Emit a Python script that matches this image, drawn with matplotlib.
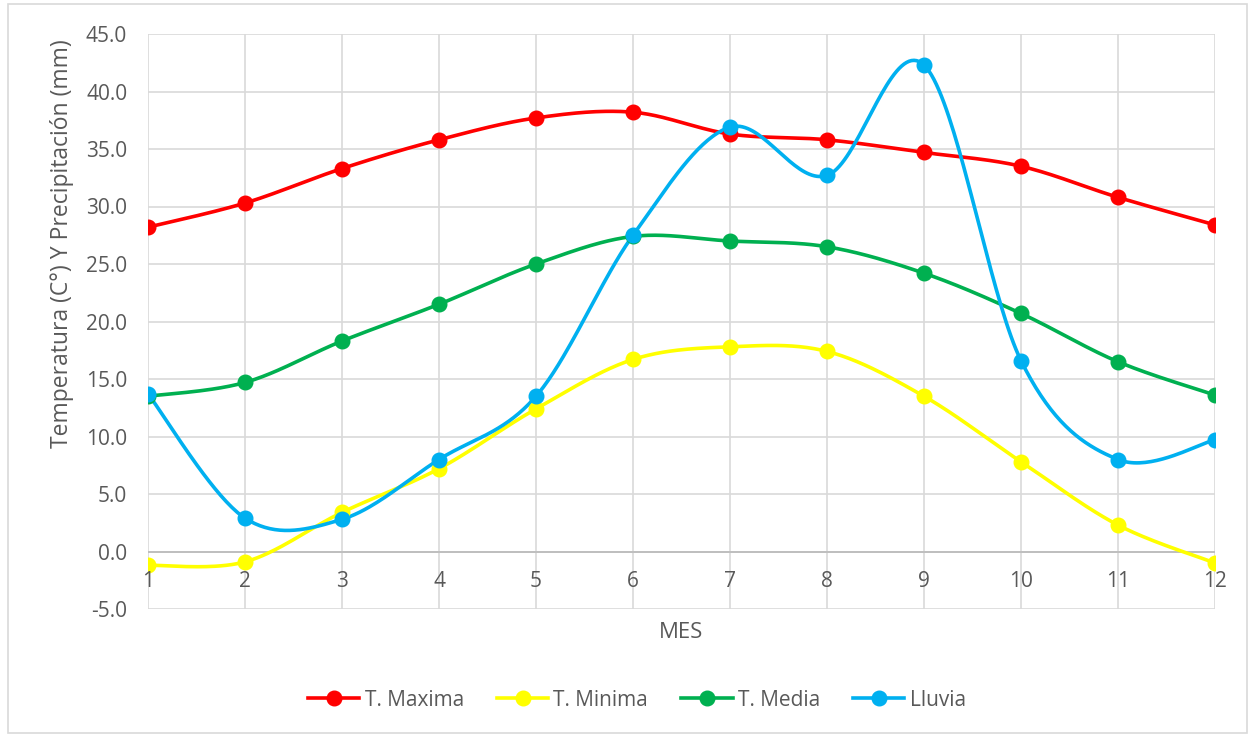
import numpy as np
import matplotlib
matplotlib.use("Agg")
import matplotlib.pyplot as plt
from matplotlib.lines import Line2D
from matplotlib.patches import Rectangle
from matplotlib.transforms import offset_copy

meses = [1, 2, 3, 4, 5, 6, 7, 8, 9, 10, 11, 12]
t_maxima = [28.2, 30.3, 33.3, 35.8, 37.7, 38.2, 36.3, 35.8, 34.7, 33.5, 30.8, 28.4]
t_minima = [-1.2, -0.9, 3.4, 7.2, 12.4, 16.7, 17.8, 17.4, 13.5, 7.8, 2.3, -1.0]
t_media = [13.5, 14.7, 18.3, 21.5, 25.0, 27.4, 27.0, 26.5, 24.2, 20.7, 16.5, 13.6]
lluvia = [13.7, 2.9, 2.8, 8.0, 13.5, 27.5, 36.9, 32.7, 42.3, 16.6, 8.0, 9.7]

series_names = ["T. Maxima", "T. Minima", "T. Media", "Lluvia"]
series_colors = ["#FF0000", "#FFFF00", "#00B050", "#00B0F0"]
y_ticks = [-5, 0, 5, 10, 15, 20, 25, 30, 35, 40, 45]

TXT = "#595959"
FONT = "Open Sans"
plt.rcParams["font.family"] = [FONT, "DejaVu Sans"]


def smooth(xs, ys, n=40):
    """Excel-like smoothed line: cubic Bezier with Catmull-Rom control points."""
    xs = np.asarray(xs, float)
    ys = np.asarray(ys, float)
    P = np.column_stack([xs, ys])
    out = []
    t = np.linspace(0, 1, n)[:, None]
    for i in range(len(P) - 1):
        p0 = P[i - 1] if i > 0 else P[i]
        p1 = P[i]
        p2 = P[i + 1]
        p3 = P[i + 2] if i + 2 < len(P) else P[i + 1]
        c1 = p1 + (p2 - p0) / 6.0
        c2 = p2 - (p3 - p1) / 6.0
        seg = ((1 - t) ** 3) * p1 + 3 * ((1 - t) ** 2) * t * c1 + 3 * (1 - t) * t ** 2 * c2 + t ** 3 * p2
        out.append(seg if i == 0 else seg[1:])
    S = np.vstack(out)
    return S[:, 0], S[:, 1]


fig = plt.figure(figsize=(12.52, 7.35), dpi=100)
fig.patches.append(Rectangle((0.006, 0.003), 0.99, 0.991, transform=fig.transFigure,
                             fill=False, edgecolor="#D9D9D9", linewidth=1.2))
ax = fig.add_axes([148 / 1252, 1 - 609 / 735, (1215 - 148) / 1252, (609 - 34) / 735])

ax.set_xlim(1, 12)
ax.set_ylim(-5, 45)
ax.set_xticks(meses)
ax.set_yticks(y_ticks)
ax.set_yticklabels([f"{v:.1f}" for v in y_ticks])
ax.grid(True, color="#D9D9D9", linewidth=1.2)
ax.set_axisbelow(True)
for s in ax.spines.values():
    s.set_visible(False)
ax.axhline(0, color="#BFBFBF", linewidth=1.4, zorder=1)
ax.tick_params(axis="x", length=0, labelbottom=False)
ax.tick_params(axis="y", length=0, pad=15, labelsize=15, labelcolor=TXT)

trans = offset_copy(ax.transData, fig=fig, x=0, y=-30, units="dots")
for m in meses:
    ax.text(m, 0, str(m), transform=trans, ha="center", va="center",
            fontsize=15, color=TXT, zorder=5)

handles = []
for name, col, vals in zip(series_names, series_colors, [t_maxima, t_minima, t_media, lluvia]):
    sx, sy = smooth(meses, vals)
    ax.plot(sx, sy, color=col, linewidth=2.6, solid_capstyle="round", zorder=3)
    ax.plot(meses, vals, linestyle="none", marker="o", markersize=10.5,
            color=col, zorder=4)
    handles.append(Line2D([0], [0], color=col, linewidth=2.6, marker="o", markersize=10.5))

fig.text(681 / 1252, 1 - 632 / 735, "MES", ha="center", va="center", fontsize=16, color=TXT)
fig.text(62 / 1252, 1 - 244 / 735, "Temperatura (C°) Y Precipitación (mm)", rotation=90,
         ha="center", va="center", fontsize=16.5, color=TXT)

fig.legend(handles, series_names, loc="center", bbox_to_anchor=(637 / 1252, 1 - 700 / 735),
           ncol=4, frameon=False, fontsize=15, labelcolor=TXT,
           handlelength=2.45, handletextpad=0.25, columnspacing=1.6)

fig.savefig("out.png", dpi=100)
